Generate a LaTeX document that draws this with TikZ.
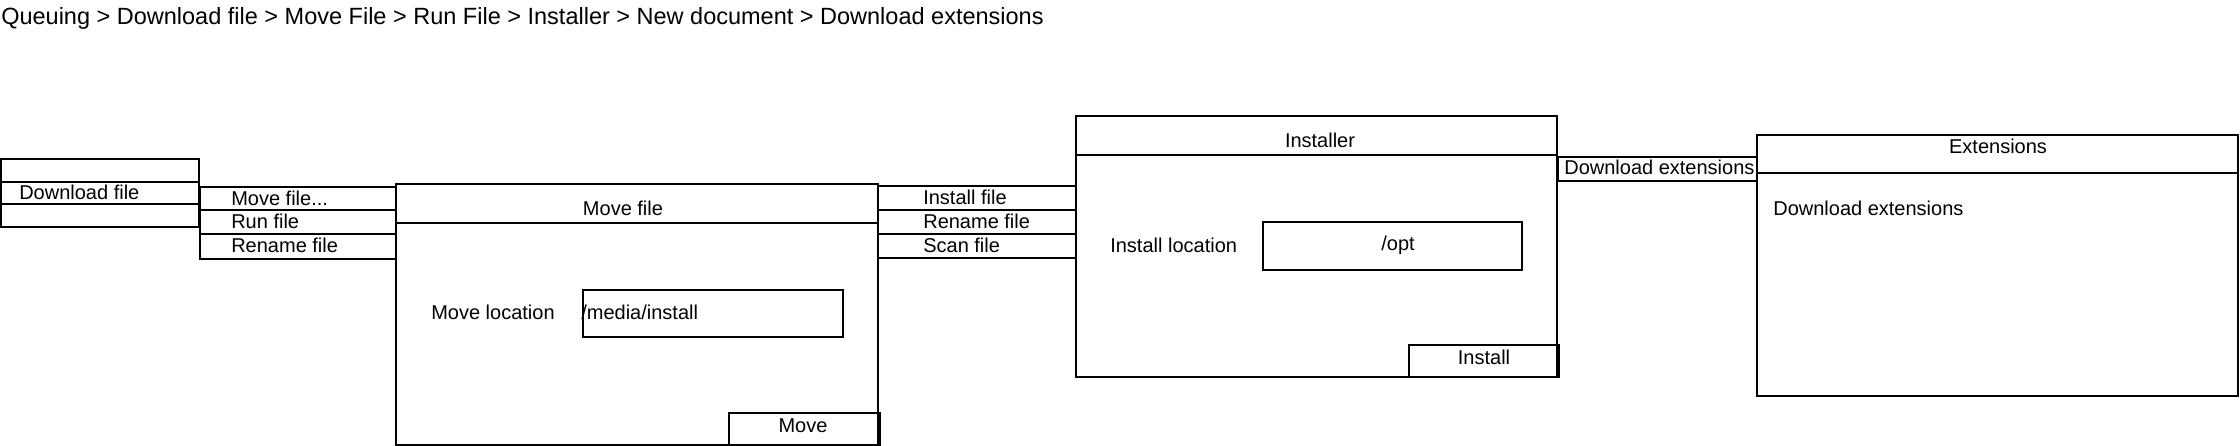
\documentclass[tikz,border=0pt]{standalone}
\usepackage{fontspec}
\setmainfont{Liberation Sans}

\begin{document}
\begin{tikzpicture}[x=1pt, y=-1pt, line width=2.6pt,
  txt/.style={font=\fontsize{20}{23}\selectfont, inner sep=0pt, yshift=1.5pt},
  ltxt/.style={txt, anchor=west}]

\useasboundingbox (0,0) rectangle (2240,446);

% breadcrumb at the top
\node[anchor=west, inner sep=0pt, font=\fontsize{23.5}{27}\selectfont] (crumbs) at (0,18.5)
  {Queuing > Download file > Move File > Run File > Installer > New document > Download extensions};

% first menu
\draw (1,159) rectangle (199,227);
\draw (1,182) -- (199,182);
\draw (1,204) -- (199,204);
\node[ltxt] (dlfile) at (18,194) {Download file};

% menu of the downloaded file
\draw (200,187) rectangle (396,259);
\draw (200,210) -- (396,210);
\draw (200,234) -- (396,234);
\node[ltxt] (movefile) at (230,200) {Move file...};
\node[ltxt] (runfile) at (230,223) {Run file};
\node[ltxt] (renfile) at (230,247) {Rename file};

% move file window
\draw (396,184) rectangle (878,445);
\draw (396,223) -- (878,223);
\node[txt] (movetitle) at (623,210) {Move file};
\node[ltxt] (moveloc) at (430,314) {Move location};
\draw (583,290) rectangle (843,337);
\node[ltxt] (movepath) at (580,314) {/media/install};
\draw (729,413) rectangle (880,445);
\node[txt] (movebtn) at (803,427) {Move};

% menu of the moved file
\draw (878,186) rectangle (1076,258);
\draw (878,210) -- (1076,210);
\draw (878,234) -- (1076,234);
\node[ltxt] (instfile) at (922,199) {Install file};
\node[ltxt] (renfileb) at (922,223) {Rename file};
\node[ltxt] (scanfile) at (922,247) {Scan file};

% installer window
\draw (1076,116) rectangle (1557,377);
\draw (1076,155) -- (1557,155);
\node[txt] (insttitle) at (1320,142) {Installer};
\node[ltxt] (instloc) at (1109,247) {Install location};
\draw (1263,222) rectangle (1522,270);
\node[txt] (instpath) at (1398,247) {/opt};
\draw (1409,345) rectangle (1559,377);
\node[txt] (instbtn) at (1484,359) {Install};

% download extensions button
\draw (1558,157) rectangle (1757,181);
\node[ltxt] (dlext) at (1563,169) {Download extensions};

% extensions window
\draw (1757,135) rectangle (2238,396);
\draw (1757,173) -- (2238,173);
\node[txt] (exttitle) at (1998,148) {Extensions};
\node[ltxt] (extbody) at (1772,210) {Download extensions};

\end{tikzpicture}
\end{document}
